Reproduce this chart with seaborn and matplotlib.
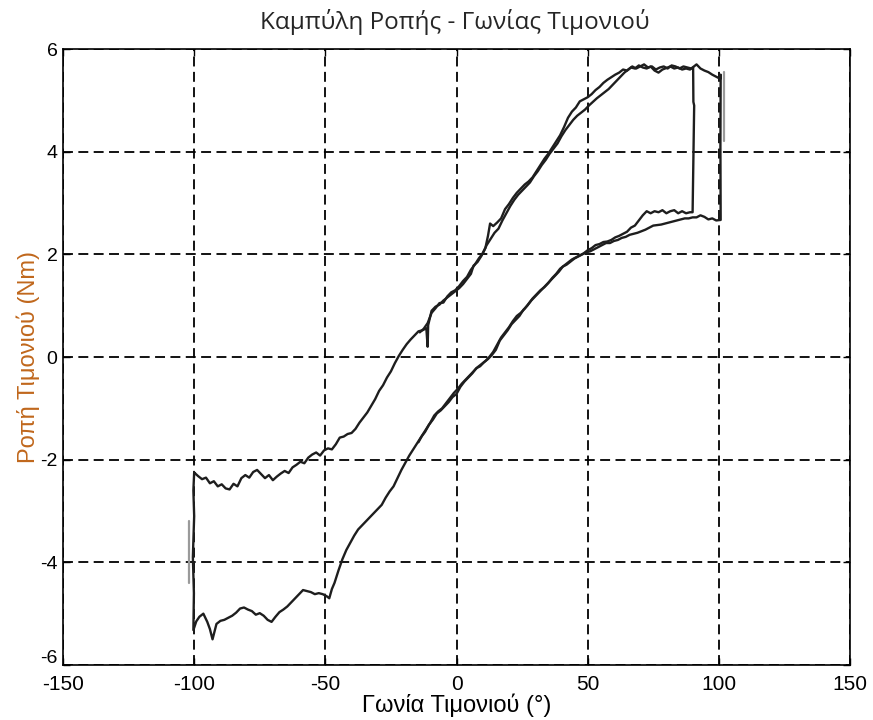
import pandas as pd
import matplotlib
matplotlib.use("Agg")
import matplotlib.pyplot as plt
import matplotlib.transforms as mtransforms
import seaborn as sns

# Steering angle (deg) / steering torque (Nm) measurements.
# Cycle A: full sweep to the right, drop at the right end, return sweep, rise at the left end.
cycle_a_up_angle = [
    -100.0, -98.5, -97.0, -95.5, -94.0, -92.5, -91.0, -89.5, -88.0, -86.5,
    -85.0, -83.5, -82.0, -80.5, -79.0, -77.5, -76.0, -74.5, -73.0, -71.5,
    -70.0, -68.5, -67.0, -65.5, -64.0, -62.5, -61.0, -59.5, -58.0, -56.5,
    -55.0, -53.5, -52.0, -50.5, -49.0, -47.5, -46.0, -44.5, -43.0, -41.5,
    -40.0, -38.5, -37.0, -35.5, -34.0, -32.5, -31.0, -29.5, -28.0, -26.5,
    -25.0, -23.5, -22.0, -20.5, -19.0, -17.5, -16.0, -14.5, -13.0, -11.5,
    -11.0, -10.8, -9.5, -8.0, -6.5, -5.0, -3.5, -2.0, -0.5, 1.0,
    2.5, 4.0, 5.5, 6.5, 8.0, 9.5, 11.0, 12.0, 12.8, 14.0,
    15.5, 17.0, 18.5, 20.0, 21.5, 23.0, 24.5, 26.0, 27.5, 29.0,
    30.5, 32.0, 33.5, 35.0, 36.5, 38.0, 39.5, 41.0, 42.5, 44.0,
    45.5, 47.0, 48.5, 50.0, 51.5, 53.0, 54.5, 56.0, 57.5, 59.0,
    60.5, 62.0, 63.5, 65.0, 66.5, 68.0, 69.5, 71.0, 72.5, 74.0,
    75.5, 77.0, 78.5, 80.0, 81.5, 83.0, 84.5, 86.0, 87.5, 89.0,
    90.5, 91.5, 93.0, 94.5, 96.0, 97.5, 99.0, 100.5, 100.7, 100.6,
]
cycle_a_up_torque = [
    -2.25, -2.32, -2.38, -2.35, -2.46, -2.42, -2.52, -2.48, -2.56, -2.58,
    -2.47, -2.52, -2.36, -2.30, -2.35, -2.24, -2.20, -2.28, -2.36, -2.30,
    -2.40, -2.33, -2.27, -2.22, -2.26, -2.15, -2.10, -2.04, -2.07, -1.96,
    -1.90, -1.86, -1.92, -1.82, -1.78, -1.80, -1.70, -1.57, -1.55, -1.50,
    -1.48, -1.40, -1.28, -1.18, -1.08, -0.95, -0.82, -0.66, -0.55, -0.40,
    -0.28, -0.12, 0.02, 0.14, 0.25, 0.34, 0.42, 0.50, 0.52, 0.56,
    0.20, 0.62, 0.90, 0.98, 1.02, 1.10, 1.16, 1.22, 1.28, 1.34,
    1.42, 1.52, 1.62, 1.78, 1.85, 1.97, 2.12, 2.36, 2.60, 2.55,
    2.62, 2.70, 2.88, 2.98, 3.10, 3.20, 3.28, 3.36, 3.42, 3.50,
    3.62, 3.74, 3.86, 3.96, 4.08, 4.20, 4.32, 4.48, 4.66, 4.78,
    4.86, 4.98, 5.02, 5.06, 5.12, 5.20, 5.26, 5.34, 5.40, 5.45,
    5.50, 5.54, 5.60, 5.58, 5.64, 5.62, 5.68, 5.64, 5.62, 5.66,
    5.58, 5.54, 5.60, 5.63, 5.66, 5.62, 5.64, 5.60, 5.62, 5.60,
    5.66, 5.70, 5.62, 5.58, 5.55, 5.50, 5.46, 5.42, 5.50, 4.10,
]
cycle_a_down_angle = [
    100.7, 99.0, 97.5, 96.0, 94.5, 93.0, 91.5, 90.0, 88.5, 87.0,
    85.5, 84.0, 82.5, 81.0, 79.5, 78.0, 76.5, 75.0, 73.5, 72.0,
    70.5, 69.0, 67.5, 66.0, 64.5, 63.0, 61.5, 60.0, 58.5, 57.0,
    55.5, 54.0, 52.5, 51.0, 49.5, 48.0, 46.5, 45.0, 43.5, 42.0,
    40.5, 39.0, 37.5, 36.0, 34.5, 33.0, 31.5, 30.0, 28.5, 27.0,
    25.5, 24.0, 22.5, 21.0, 19.5, 18.0, 16.5, 15.0, 13.5, 12.0,
    10.5, 9.0, 7.5, 6.0, 4.5, 3.0, 1.5, 0.0, -1.5, -3.0,
    -4.5, -6.0, -7.5, -9.0, -10.5, -12.0, -13.5, -15.0, -16.5, -18.0,
    -19.5, -21.0, -22.5, -24.0, -25.5, -27.0, -28.5, -30.0, -31.5, -33.0,
    -34.5, -36.0, -37.5, -39.0, -40.5, -42.0, -43.5, -45.0, -46.5, -47.5,
    -48.5, -49.5, -51.0, -52.5, -54.0, -55.5, -57.0, -58.5, -60.0, -61.5,
    -63.0, -64.5, -66.0, -67.5, -69.0, -70.5, -72.0, -73.5, -75.0, -76.5,
    -78.0, -79.5, -81.0, -82.5, -84.0, -85.5, -87.0, -88.5, -90.0, -91.5,
    -93.0, -94.0, -95.0, -96.5, -98.0, -99.2, -100.3, -100.1, -100.5, -100.0,
    -100.3, -100.0,
]
cycle_a_down_torque = [
    2.67, 2.66, 2.70, 2.68, 2.73, 2.76, 2.72, 2.72, 2.70, 2.70,
    2.68, 2.66, 2.64, 2.62, 2.60, 2.58, 2.57, 2.56, 2.52, 2.48,
    2.45, 2.42, 2.40, 2.38, 2.34, 2.32, 2.28, 2.26, 2.22, 2.22,
    2.18, 2.14, 2.10, 2.06, 2.04, 2.00, 1.96, 1.92, 1.86, 1.80,
    1.76, 1.66, 1.58, 1.50, 1.42, 1.34, 1.26, 1.18, 1.10, 1.00,
    0.92, 0.80, 0.72, 0.64, 0.52, 0.42, 0.32, 0.14, 0.04, -0.04,
    -0.10, -0.18, -0.22, -0.32, -0.40, -0.48, -0.58, -0.72, -0.78, -0.88,
    -0.96, -1.04, -1.10, -1.22, -1.32, -1.46, -1.56, -1.68, -1.80, -1.92,
    -2.06, -2.20, -2.36, -2.52, -2.62, -2.74, -2.88, -2.96, -3.04, -3.12,
    -3.20, -3.28, -3.36, -3.48, -3.62, -3.76, -3.94, -4.16, -4.40, -4.52,
    -4.70, -4.66, -4.62, -4.60, -4.62, -4.58, -4.56, -4.54, -4.62, -4.70,
    -4.78, -4.86, -4.92, -4.97, -5.06, -5.16, -5.12, -5.04, -4.99, -5.02,
    -4.95, -4.92, -4.88, -4.90, -4.98, -5.04, -5.08, -5.12, -5.14, -5.20,
    -5.50, -5.30, -5.16, -5.00, -5.06, -5.15, -5.32, -4.60, -3.90, -3.10,
    -2.60, -2.25,
]

# Cycle B: second sweep (joins cycle A near the centre), reverses at about 90 deg.
cycle_b_up_angle = [
    -14.0, -12.5, -11.0, -9.5, -8.0, -6.5, -5.0, -3.5, -2.0, -0.5,
    1.0, 2.5, 4.0, 5.5, 7.0, 8.5, 10.0, 11.5, 13.0, 14.5,
    16.0, 17.5, 19.0, 20.5, 22.0, 23.5, 25.0, 26.5, 28.0, 29.5,
    31.0, 32.5, 34.0, 35.5, 37.0, 38.5, 40.0, 41.5, 43.0, 44.5,
    46.0, 47.5, 49.0, 50.5, 52.0, 53.5, 55.0, 56.5, 58.0, 59.5,
    61.0, 62.5, 64.0, 65.5, 67.0, 68.5, 70.0, 71.5, 73.0, 74.5,
    76.0, 77.5, 79.0, 80.5, 82.0, 83.5, 85.0, 86.5, 88.0, 89.5,
    90.2, 90.3, 90.6, 90.2,
]
cycle_b_up_torque = [
    0.48, 0.55, 0.66, 0.86, 0.95, 1.05, 1.06, 1.18, 1.26, 1.30,
    1.38, 1.48, 1.56, 1.70, 1.80, 1.92, 2.02, 2.18, 2.30, 2.42,
    2.50, 2.66, 2.80, 2.94, 3.06, 3.16, 3.24, 3.32, 3.40, 3.52,
    3.62, 3.74, 3.84, 3.96, 4.06, 4.16, 4.30, 4.42, 4.52, 4.62,
    4.70, 4.76, 4.82, 4.90, 4.97, 5.04, 5.10, 5.16, 5.22, 5.30,
    5.38, 5.46, 5.54, 5.60, 5.66, 5.62, 5.66, 5.70, 5.64, 5.66,
    5.60, 5.64, 5.66, 5.62, 5.68, 5.66, 5.62, 5.66, 5.64, 5.62,
    5.64, 4.97, 4.90, 3.60,
]
cycle_b_down_angle = [
    90.0, 89.0, 87.5, 86.0, 84.5, 83.0, 81.5, 80.0, 78.5, 77.0,
    75.5, 74.0, 72.5, 71.0, 69.5, 68.0, 66.5, 65.0, 63.5, 62.0,
    60.5, 59.0, 57.5, 56.0, 54.5, 53.0, 51.5, 50.0, 48.5, 47.0,
    45.5, 44.0, 42.5, 41.0, 39.5, 38.0, 36.5, 35.0, 33.5, 32.0,
    30.5, 29.0, 27.5, 26.0, 24.5, 23.0, 21.5, 20.0, 18.5, 17.0,
    15.5, 14.0, 12.5, 11.0, 9.5, 8.0, 6.5, 5.0, 3.5, 2.0,
    0.5, -1.0, -2.5, -4.0, -5.5, -7.0, -8.5, -10.0, -11.5, -13.0,
    -14.5,
]
cycle_b_down_torque = [
    2.82, 2.82, 2.80, 2.84, 2.80, 2.86, 2.84, 2.80, 2.86, 2.82,
    2.84, 2.80, 2.84, 2.76, 2.66, 2.56, 2.52, 2.44, 2.40, 2.36,
    2.33, 2.28, 2.25, 2.24, 2.20, 2.18, 2.12, 2.08, 2.02, 1.98,
    1.94, 1.90, 1.84, 1.78, 1.72, 1.62, 1.54, 1.44, 1.36, 1.30,
    1.22, 1.14, 1.04, 0.94, 0.86, 0.80, 0.70, 0.58, 0.48, 0.38,
    0.24, 0.10, 0.00, -0.08, -0.14, -0.20, -0.28, -0.36, -0.44, -0.52,
    -0.62, -0.70, -0.80, -0.90, -1.00, -1.06, -1.14, -1.28, -1.40, -1.52,
    -1.66,
]

# Short fainter traces recorded at the two reversal points.
reversal_right_angle = [102.0, 102.0]
reversal_right_torque = [5.55, 4.20]
reversal_left_angle = [-102.0, -102.0]
reversal_left_torque = [-3.20, -4.40]

x_ticks = [-150, -100, -50, 0, 50, 100, 150]
y_ticks = [-6, -4, -2, 0, 2, 4, 6]

title_text = "Καμπύλη Ροπής - Γωνίας Τιμονιού"
x_label = "Γωνία Τιμονιού (°)"
y_label = "Ροπή Τιμονιού (Nm)"


def trace(name, angle, torque):
    return pd.DataFrame({"angle": angle, "torque": torque, "trace": name,
                         "step": range(len(angle))})


main = pd.concat([
    trace("A", cycle_a_up_angle + cycle_a_down_angle,
          cycle_a_up_torque + cycle_a_down_torque),
    trace("B", cycle_b_up_angle + cycle_b_down_angle,
          cycle_b_up_torque + cycle_b_down_torque),
], ignore_index=True)
faint = pd.concat([
    trace("R", reversal_right_angle, reversal_right_torque),
    trace("L", reversal_left_angle, reversal_left_torque),
], ignore_index=True)

sns.set_theme(style="white")
plt.rcParams["font.family"] = ["Liberation Sans", "DejaVu Sans"]

fig = plt.figure(figsize=(8.73, 7.2), dpi=100)
ax = fig.add_axes([63 / 873, 55 / 720, 787 / 873, 616 / 720])

sns.lineplot(data=faint, x="angle", y="torque", units="trace", estimator=None,
             sort=False, color="#9a9a9a", linewidth=1.6, ax=ax, legend=False)
sns.lineplot(data=main, x="angle", y="torque", units="trace", estimator=None,
             sort=False, color="#1e1e1e", linewidth=1.7, ax=ax, legend=False)

ax.set_xlim(-150, 150)
ax.set_ylim(-6, 6)
ax.set_xticks(x_ticks)
ax.set_yticks(y_ticks)
ax.set_xticklabels([str(v) for v in x_ticks], fontsize=15)
ax.set_yticklabels([str(v) for v in y_ticks], fontsize=14)
ax.tick_params(direction="in", length=5, width=1, color="black",
               top=True, right=True, bottom=True, left=True,
               labelcolor="black")
ax.tick_params(axis="x", pad=7)
ax.tick_params(axis="y", pad=4)

# lift the bottom y label a little so it sits just above the "-150" corner label
lowest = ax.get_yticklabels()[0]
lowest.set_transform(lowest.get_transform()
                     + mtransforms.ScaledTranslation(0, 6 / 72, fig.dpi_scale_trans))

ax.grid(True, color="black", linestyle=(0, (5.5, 3.0)), linewidth=1.3)
ax.set_axisbelow(True)
for side in ax.spines.values():
    side.set_visible(True)
    side.set_color("black")
    side.set_linewidth(1.2)

ax.set_xlabel(x_label, fontsize=17, color="black", labelpad=0)
ax.set_ylabel(y_label, fontsize=17, color="#c0671c", labelpad=0)
fig.text(0.521, 0.969, title_text, ha="center", va="center", fontsize=17.5,
         color="#262626", family=["Open Sans", "DejaVu Sans"])

fig.savefig("out.png", dpi=100)
